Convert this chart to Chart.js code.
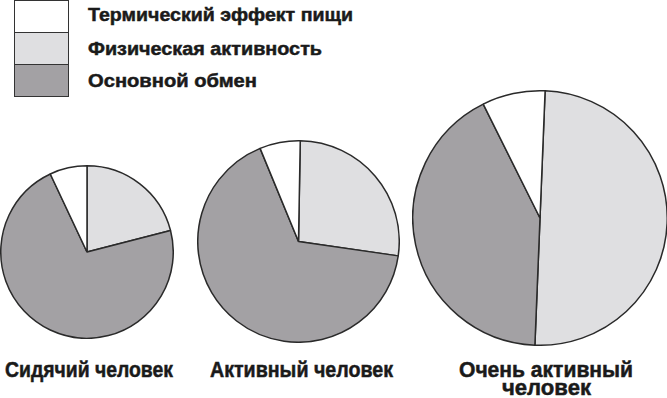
<!DOCTYPE html>
<html lang="ru">
<head>
<meta charset="utf-8">
<script src="https://cdn.jsdelivr.net/npm/chart.js@4.4.1/dist/chart.umd.min.js"></script>
<style>
  html, body { margin: 0; padding: 0; background: #fff; }
  body { width: 667px; height: 398px; position: relative; overflow: hidden;
         font-family: "Liberation Sans", Arial, sans-serif;
         font-weight: bold; color: #1a1a1a; }
  .pie { position: absolute; }
  .legend-box { position: absolute; left: 14px; width: 55px; height: 33px;
                box-sizing: border-box; border: 1.5px solid #333; }
  .legend-text { position: absolute; left: 88px; font-size: 19px; line-height: 19px;
                 white-space: nowrap; transform-origin: 0 0;
                 -webkit-text-stroke: 0.5px #1a1a1a; }
  .caption { position: absolute; font-size: 22px; line-height: 17.5px; white-space: nowrap;
             transform-origin: 0 0; }
  .caption span { display: block; position: absolute; left: 0; white-space: nowrap;
                  transform-origin: 0 0; -webkit-text-stroke: 0.5px #1a1a1a; }
</style>
</head>
<body>
<div id="legend"></div>
<div id="pies"></div>
<div id="captions"></div>
<script>
// Energy expenditure components, in percent of daily total
const groups = [['Сидячий человек'], ['Активный человек'], ['Очень активный', 'человек']];
const components = ['Термический эффект пищи', 'Физическая активность', 'Основной обмен'];
const thermic = [7, 6.5, 8];
const activity = [21, 27, 50];
const basal = [72, 66.5, 42];
const startAngle = [0, 1, 2.3];

const colors = ['#ffffff', '#dfdfe1', '#a3a1a4'];

// pie geometry: centre x, centre y, radius
const layout = [
  { cx: 87, cy: 252, r: 86 },
  { cx: 298, cy: 241, r: 100.5 },
  { cx: 539.5, cy: 217.5, r: 127 }
];

// condensed lettering: squeeze each run of text to its set width
const measureCtx = document.createElement('canvas').getContext('2d');
function textWidth(str, px) {
  measureCtx.font = 'bold ' + px + 'px "Liberation Sans", Arial, sans-serif';
  return measureCtx.measureText(str).width;
}

// legend
const legend = document.getElementById('legend');
const legendTop = [0, 32, 64];
const legendTextTop = [4.6, 38.9, 71.2];
const legendTextWidth = [265, 234, 169];
components.forEach((name, i) => {
  const box = document.createElement('div');
  box.className = 'legend-box';
  box.style.top = legendTop[i] + 'px';
  box.style.background = colors[i];
  legend.appendChild(box);
  const t = document.createElement('div');
  t.className = 'legend-text';
  t.style.top = legendTextTop[i] + 'px';
  t.textContent = name;
  t.style.transform = 'scaleX(' + (legendTextWidth[i] / textWidth(name, 19)) + ')';
  legend.appendChild(t);
});

// captions under the pies: centre x and width of each line
const captionCenter = [89, 301, 546];
const captionWidth = [[168], [183], [174, 89]];
const captionTop = 361.1;

// pies: slices run clockwise from the top as activity, basal, thermic
const pies = document.getElementById('pies');
const bw = 1.5;
groups.forEach((g, i) => {
  const L = layout[i];
  const size = Math.round(L.r * 2 + bw);
  const wrap = document.createElement('div');
  wrap.className = 'pie';
  wrap.style.left = (L.cx - size / 2) + 'px';
  wrap.style.top = (L.cy - size / 2) + 'px';
  wrap.style.width = size + 'px';
  wrap.style.height = size + 'px';
  const c = document.createElement('canvas');
  c.width = size; c.height = size;
  wrap.appendChild(c);
  pies.appendChild(wrap);
  new Chart(c, {
    type: 'pie',
    data: {
      labels: [components[1], components[2], components[0]],
      datasets: [{
        data: [activity[i], basal[i], thermic[i]],
        backgroundColor: [colors[1], colors[2], colors[0]],
        borderColor: '#2a2a2a',
        borderWidth: bw,
        borderAlign: 'center'
      }]
    },
    options: {
      responsive: false,
      animation: false,
      rotation: startAngle[i],
      layout: { padding: 0 },
      plugins: { legend: { display: false }, tooltip: { enabled: false } }
    }
  });

  const cap = document.createElement('div');
  cap.className = 'caption';
  cap.style.left = '0px';
  cap.style.top = captionTop + 'px';
  g.forEach((line, k) => {
    const s = document.createElement('span');
    s.textContent = line;
    const w = captionWidth[i][k];
    s.style.left = (captionCenter[i] - w / 2) + 'px';
    s.style.top = (k * 17.5) + 'px';
    s.style.transform = 'scaleX(' + (w / textWidth(line, 22)) + ')';
    cap.appendChild(s);
  });
  document.getElementById('captions').appendChild(cap);
});
</script>
</body>
</html>
